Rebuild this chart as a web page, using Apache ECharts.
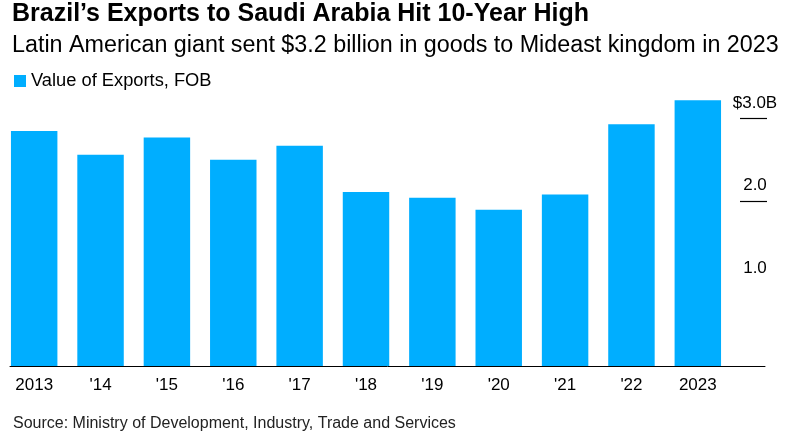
<!DOCTYPE html>
<html>
<head>
<meta charset="utf-8">
<script src="https://cdn.jsdelivr.net/npm/echarts@6/dist/echarts.min.js"></script>
<style>
html,body{margin:0;padding:0;background:#fff;}
#c{width:811px;height:439px;}
</style>
</head>
<body>
<div id="c"></div>
<script>
const categories = ['2013', "'14", "'15", "'16", "'17", "'18", "'19", "'20", "'21", "'22", '2023'];
const exportsValues = [2.85, 2.56, 2.77, 2.50, 2.67, 2.11, 2.04, 1.895, 2.08, 2.93, 3.22];
const yTicks = [0, 1, 2, 3, 4];
const yTickLabels = ['', '1.0', '2.0', '$3.0B', ''];

const FONT = '"Liberation Sans", Arial, sans-serif';
const chart = echarts.init(document.getElementById('c'), null, {renderer: 'canvas'});
const gridTop = 36, gridHeight = 330;
chart.setOption({
  animation: false,
  backgroundColor: '#fff',
  title: [
    {text: 'Brazil\u2019s Exports to Saudi Arabia Hit 10-Year High', left: 7, top: -3,
     textStyle: {fontFamily: FONT, fontSize: 25, fontWeight: 'bold', color: '#000'}},
    {text: 'Latin American giant sent $3.2 billion in goods to Mideast kingdom in 2023', left: 7, top: 29,
     textStyle: {fontFamily: FONT, fontSize: 23.3, fontWeight: 'normal', color: '#000'}},
    {text: 'Source: Ministry of Development, Industry, Trade and Services', left: 8, top: 411,
     textStyle: {fontFamily: FONT, fontSize: 16, fontWeight: 'normal', color: '#222'}}
  ],
  legend: {
    left: 9, top: 67, icon: 'rect', itemWidth: 12, itemHeight: 12, itemGap: 8,
    textStyle: {fontFamily: FONT, fontSize: 18.3, color: '#000'},
    data: ['Value of Exports, FOB']
  },
  grid: [
    {left: 1, width: 730, top: gridTop, height: gridHeight},
    {left: 10, width: 755, top: gridTop, height: gridHeight},
    {left: 740, width: 27, top: gridTop, height: gridHeight}
  ],
  xAxis: [
    {type: 'category', gridIndex: 0, data: categories,
     axisLine: {show: false}, axisTick: {show: false},
     axisLabel: {fontFamily: FONT, fontSize: 17, color: '#000', margin: 11, interval: 0}},
    {type: 'value', gridIndex: 1, min: 0, max: 1, show: true,
     axisLine: {show: true, onZero: false, lineStyle: {color: '#000', width: 1}},
     axisTick: {show: false}, axisLabel: {show: false}, splitLine: {show: false}},
    {type: 'value', gridIndex: 2, min: 0, max: 1, show: false}
  ],
  yAxis: [
    {type: 'value', gridIndex: 0, min: yTicks[0], max: yTicks[yTicks.length - 1], interval: 1, show: false},
    {type: 'value', gridIndex: 1, min: yTicks[0], max: yTicks[yTicks.length - 1], interval: 1, show: false},
    {type: 'value', gridIndex: 2, position: 'right', min: yTicks[0], max: yTicks[yTicks.length - 1], interval: 1,
     axisLine: {show: false}, axisTick: {show: false},
     axisLabel: {fontFamily: FONT, fontSize: 17, color: '#000', margin: -12, align: 'center',
                 verticalAlign: 'bottom', padding: [0, 0, 7, 0],
                 formatter: function (v) { const i = yTicks.indexOf(v); return i >= 0 ? yTickLabels[i] : ''; }},
     splitLine: {show: true, lineStyle: {width: 1.2, color: ['rgba(0,0,0,0)', 'rgba(0,0,0,0)', '#000', '#000', 'rgba(0,0,0,0)']}}}
  ],
  series: [
    {name: 'Value of Exports, FOB', type: 'bar', xAxisIndex: 0, yAxisIndex: 0,
     data: exportsValues, barWidth: '70%', itemStyle: {color: '#00AEFF'}}
  ]
});
</script>
</body>
</html>
